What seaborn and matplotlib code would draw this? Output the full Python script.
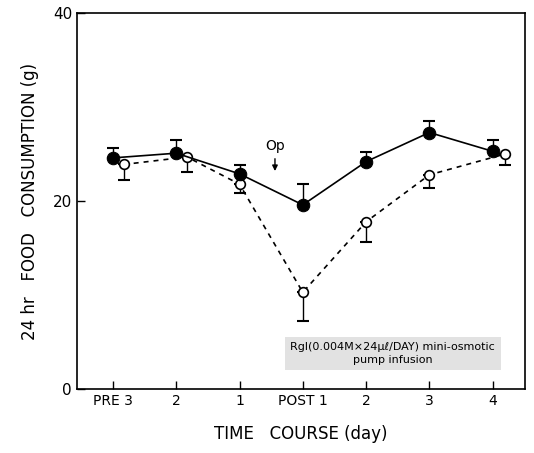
import matplotlib
matplotlib.use('Agg')
import matplotlib.pyplot as plt
import seaborn as sns
import pandas as pd

# data
day_labels = ['PRE 3', '2', '1', 'POST 1', '2', '3', '4']
filled_x = [0, 1, 2, 3, 4, 5, 6]
filled_y = [24.6, 25.1, 22.9, 19.6, 24.2, 27.3, 25.3]
filled_err_up = [1.0, 1.4, 0.9, 2.2, 1.0, 1.2, 1.2]
open_x = [0.17, 1.17, 2, 3, 4, 5, 6.19]
open_y = [23.9, 24.7, 21.8, 10.3, 17.8, 22.8, 25.0]
open_err_down = [1.6, 1.6, 0.9, 3.1, 2.2, 1.4, 1.2]

sns.set_style('ticks')
plt.rcParams['font.family'] = ['DejaVu Sans']
plt.rcParams['text.color'] = 'black'
plt.rcParams['axes.labelcolor'] = 'black'

fig = plt.figure(figsize=(5.34, 4.53), dpi=100)
ax = fig.add_axes([0.144, 0.141, 0.839, 0.83])

filled_df = pd.DataFrame({'x': filled_x, 'y': filled_y})
open_df = pd.DataFrame({'x': open_x, 'y': open_y})

# error bars (one-sided: filled up, open down)
ax.errorbar(filled_x, filled_y, yerr=[[0] * len(filled_y), filled_err_up], fmt='none',
            ecolor='black', elinewidth=1, capsize=4, capthick=1.5, zorder=2)
ax.errorbar(open_x, open_y, yerr=[open_err_down, [0] * len(open_y)], fmt='none',
            ecolor='black', elinewidth=1, capsize=4, capthick=1.5, zorder=2)

sns.lineplot(data=open_df, x='x', y='y', ax=ax, color='black', linestyle=(0, (3, 3)),
             linewidth=1.2, marker='o', markersize=7, markerfacecolor='white',
             markeredgecolor='black', markeredgewidth=1.2, zorder=3)
sns.lineplot(data=filled_df, x='x', y='y', ax=ax, color='black', linewidth=1.2,
             marker='o', markersize=9, markerfacecolor='black', markeredgecolor='black', zorder=4)

ax.set_xlim(-0.57, 6.51)
ax.set_ylim(0, 40)
ax.set_xticks(range(len(day_labels)))
ax.set_xticklabels(day_labels, fontsize=10)
ax.set_yticks([0, 20, 40])
ax.set_yticklabels(['0', '20', '40'], fontsize=11)
ax.tick_params(axis='both', direction='in', length=6, width=1, colors='black', labelcolor='black')
for s in ax.spines.values():
    s.set_visible(True)
    s.set_linewidth(1.2)
    s.set_color('black')

ax.set_xlabel('TIME   COURSE (day)', fontsize=12, labelpad=12)
ax.set_ylabel('24 hr   FOOD   CONSUMPTION (g)', fontsize=12, labelpad=10)

# operation marker
ax.annotate('Op', xy=(2.56, 23.2), xytext=(2.56, 25.9), ha='center', va='center', fontsize=10,
            arrowprops=dict(arrowstyle='-|>', color='black', lw=1, shrinkA=2, shrinkB=0,
                            mutation_scale=8))

# infusion legend box
ax.text(4.42, 3.8, 'Rgl(0.004M\u00d724\u03bc\u2113/DAY) mini-osmotic\npump infusion',
        ha='center', va='center', fontsize=8, linespacing=1.3,
        bbox=dict(boxstyle='square,pad=0.5', facecolor='#e2e2e2', edgecolor='none'))

fig.savefig('out.png', dpi=100)
